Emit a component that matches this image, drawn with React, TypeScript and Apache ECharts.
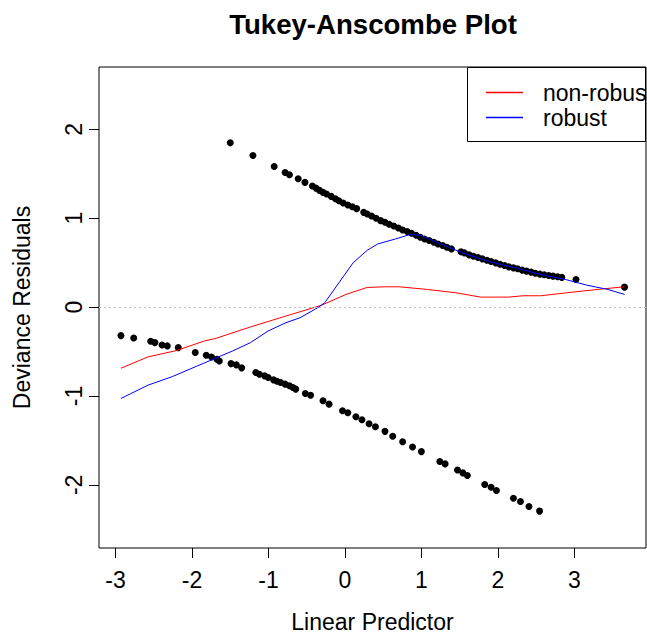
import React, { useEffect, useRef } from "react";
import * as echarts from "echarts";

const FONT = '"Liberation Sans", Arial, Helvetica, sans-serif';

const xTicks = [-3, -2, -1, 0, 1, 2, 3];
const yTicks = [-2, -1, 0, 1, 2];

// residuals of the observations with response 1 (upper branch)
const upperX = [
  -1.499, -1.203, -0.925, -0.782, -0.726, -0.611, -0.523, -0.426, -0.379, -0.333,
  -0.287, -0.241, -0.18, -0.125, -0.079, -0.023, 0.037, 0.097, 0.153, 0.245,
  0.291, 0.347, 0.407, 0.467, 0.523, 0.578, 0.638, 0.698, 0.754, 0.814,
  0.87, 0.93, 0.985, 1.041, 1.101, 1.161, 1.216, 1.277, 1.332, 1.392,
  1.517, 1.563, 1.623, 1.679, 1.739, 1.795, 1.855, 1.91, 1.97, 2.026,
  2.086, 2.142, 2.202, 2.257, 2.317, 2.373, 2.433, 2.488, 2.549, 2.604,
  2.664, 2.72, 2.78, 2.835, 3.02, 3.654,
];
const upperY = [
  1.847, 1.705, 1.581, 1.514, 1.488, 1.443, 1.402, 1.361, 1.338, 1.312,
  1.29, 1.271, 1.245, 1.219, 1.196, 1.17, 1.148, 1.129, 1.107, 1.065,
  1.047, 1.024, 0.998, 0.972, 0.953, 0.931, 0.912, 0.89, 0.867, 0.849,
  0.83, 0.807, 0.785, 0.766, 0.748, 0.729, 0.71, 0.692, 0.673, 0.654,
  0.621, 0.609, 0.587, 0.572, 0.557, 0.542, 0.527, 0.512, 0.497, 0.482,
  0.467, 0.452, 0.441, 0.43, 0.415, 0.404, 0.393, 0.381, 0.37, 0.363,
  0.355, 0.348, 0.34, 0.334, 0.31, 0.224,
];

// residuals of the observations with response 0 (lower branch)
const lowerX = [
  -2.928, -2.761, -2.539, -2.484, -2.391, -2.322, -2.179, -1.957, -1.813, -1.744,
  -1.674, -1.642, -1.489, -1.42, -1.35, -1.165, -1.119, -1.05, -1.004, -0.934,
  -0.888, -0.842, -0.782, -0.726, -0.68, -0.643, -0.518, -0.449, -0.287, -0.208,
  -0.032, 0.037, 0.143, 0.222, 0.315, 0.398, 0.523, 0.624, 0.754, 0.883,
  0.999, 1.24, 1.309, 1.471, 1.54, 1.6, 1.827, 1.91, 1.98, 2.202,
  2.294, 2.405, 2.544,
];
const lowerY = [
  -0.321, -0.348, -0.385, -0.4, -0.426, -0.437, -0.456, -0.512, -0.542, -0.561,
  -0.587, -0.606, -0.636, -0.65, -0.684, -0.736, -0.755, -0.774, -0.793, -0.819,
  -0.834, -0.849, -0.867, -0.886, -0.905, -0.923, -0.972, -0.991, -1.054, -1.092,
  -1.166, -1.189, -1.234, -1.267, -1.312, -1.346, -1.398, -1.454, -1.514, -1.574,
  -1.626, -1.738, -1.764, -1.832, -1.865, -1.895, -1.996, -2.026, -2.064, -2.15,
  -2.187, -2.243, -2.295,
];

const nonRobustX = [
  -2.928, -2.576, -2.206, -1.836, -1.698, -1.235, -0.772, -0.31, 0.014, 0.291,
  0.523, 0.708, 1.078, 1.448, 1.772, 2.142, 2.327, 2.558, 3.02, 3.39, 3.654,
];
const nonRobustY = [
  -0.688, -0.561, -0.49, -0.381, -0.355, -0.224, -0.101, 0.019, 0.142, 0.221,
  0.228, 0.228, 0.198, 0.161, 0.112, 0.112, 0.127, 0.127, 0.172, 0.206, 0.228,
];

const robustX = [
  -2.928, -2.576, -2.253, -1.929, -1.466, -1.235, -1.004, -0.772, -0.587, -0.356,
  -0.264, -0.079, 0.106, 0.291, 0.43, 0.661, 0.846, 0.985, 1.216, 1.54,
  1.91, 2.234, 2.558, 2.882, 3.159, 3.437, 3.654,
];
const robustY = [
  -1.028, -0.879, -0.781, -0.662, -0.493, -0.4, -0.269, -0.176, -0.12, -0.007,
  0.049, 0.273, 0.497, 0.639, 0.71, 0.766, 0.815, 0.808, 0.722, 0.609,
  0.505, 0.441, 0.366, 0.31, 0.247, 0.198, 0.142,
];

const zip = (xs: number[], ys: number[]) => xs.map((x, i) => [x, ys[i]]);

export default function App() {
  const ref = useRef<HTMLDivElement>(null);
  useEffect(() => {
    if (!ref.current) return;
    const chart = echarts.init(ref.current, undefined, { renderer: "svg" });
    chart.setOption({
      animation: false,
      backgroundColor: "#ffffff",
      textStyle: { fontFamily: FONT },
      title: {
        text: "Tukey-Anscombe Plot",
        left: 373,
        top: 10,
        textAlign: "center",
        padding: 0,
        textStyle: { fontFamily: FONT, fontSize: 27.6, fontWeight: "bold", color: "#000" },
      },
      grid: {
        left: 99,
        right: 1,
        top: 67,
        bottom: 85,
        show: true,
        borderColor: "#000",
        borderWidth: 1,
        backgroundColor: "transparent",
        containLabel: false,
        outerBoundsMode: "none",
      },
      legend: {
        data: ["non-robust", "robust"],
        orient: "vertical",
        left: 486,
        top: 80,
        padding: 0,
        itemGap: 0,
        itemWidth: 37,
        itemHeight: 1.5,
        icon: "rect",
        selectedMode: false,
        textStyle: {
          fontFamily: FONT,
          fontSize: 23,
          lineHeight: 25,
          color: "#000",
          padding: [0, 0, 0, 15],
        },
      },
      graphic: [
        {
          type: "rect",
          shape: { x: 467.5, y: 67.5, width: 178, height: 74 },
          style: { fill: "none", stroke: "#000", lineWidth: 1 },
          z: 10,
        },
      ],
      xAxis: {
        type: "value",
        min: -3.215,
        max: 3.935,
        name: "Linear Predictor",
        nameLocation: "middle",
        nameGap: 64,
        nameTextStyle: { fontFamily: FONT, fontSize: 23, lineHeight: 19, color: "#000" },
        splitLine: { show: false },
        axisLine: { show: false, onZero: false },
        axisTick: {
          show: true,
          inside: false,
          length: 10,
          lineStyle: { color: "#000", width: 1 },
          customValues: xTicks,
        },
        axisLabel: {
          customValues: xTicks,
          fontFamily: FONT,
          fontSize: 23,
          color: "#000",
          margin: 20,
        },
      },
      yAxis: {
        type: "value",
        min: -2.71,
        max: 2.7,
        name: "Deviance Residuals",
        nameLocation: "middle",
        nameRotate: 90,
        nameGap: 66,
        nameTextStyle: { fontFamily: FONT, fontSize: 23, color: "#000" },
        splitLine: { show: false },
        axisLine: { show: false, onZero: false },
        axisTick: {
          show: true,
          inside: false,
          length: 10,
          lineStyle: { color: "#000", width: 1 },
          customValues: yTicks,
        },
        axisLabel: {
          customValues: yTicks,
          rotate: 90,
          fontFamily: FONT,
          fontSize: 23,
          color: "#000",
          margin: 14,
        },
      },
      series: [
        {
          name: "response 1",
          type: "scatter",
          data: zip(upperX, upperY),
          symbol: "circle",
          symbolSize: 7,
          itemStyle: { color: "#000", opacity: 1 },
          markLine: {
            silent: true,
            symbol: "none",
            label: { show: false },
            lineStyle: { color: "#bebebe", type: [2, 3], width: 1 },
            data: [{ yAxis: 0 }],
          },
        },
        {
          name: "response 0",
          type: "scatter",
          data: zip(lowerX, lowerY),
          symbol: "circle",
          symbolSize: 7,
          itemStyle: { color: "#000", opacity: 1 },
        },
        {
          name: "non-robust",
          type: "line",
          data: zip(nonRobustX, nonRobustY),
          showSymbol: false,
          symbol: "none",
          lineStyle: { color: "#ff0000", width: 1 },
          itemStyle: { color: "#ff0000" },
        },
        {
          name: "robust",
          type: "line",
          data: zip(robustX, robustY),
          showSymbol: false,
          symbol: "none",
          lineStyle: { color: "#0000ff", width: 1 },
          itemStyle: { color: "#0000ff" },
        },
      ],
    });
    return () => chart.dispose();
  }, []);
  return (
    <div
      ref={ref}
      style={{ position: "absolute", left: 0, top: 0, width: 647, height: 633 }}
    />
  );
}
